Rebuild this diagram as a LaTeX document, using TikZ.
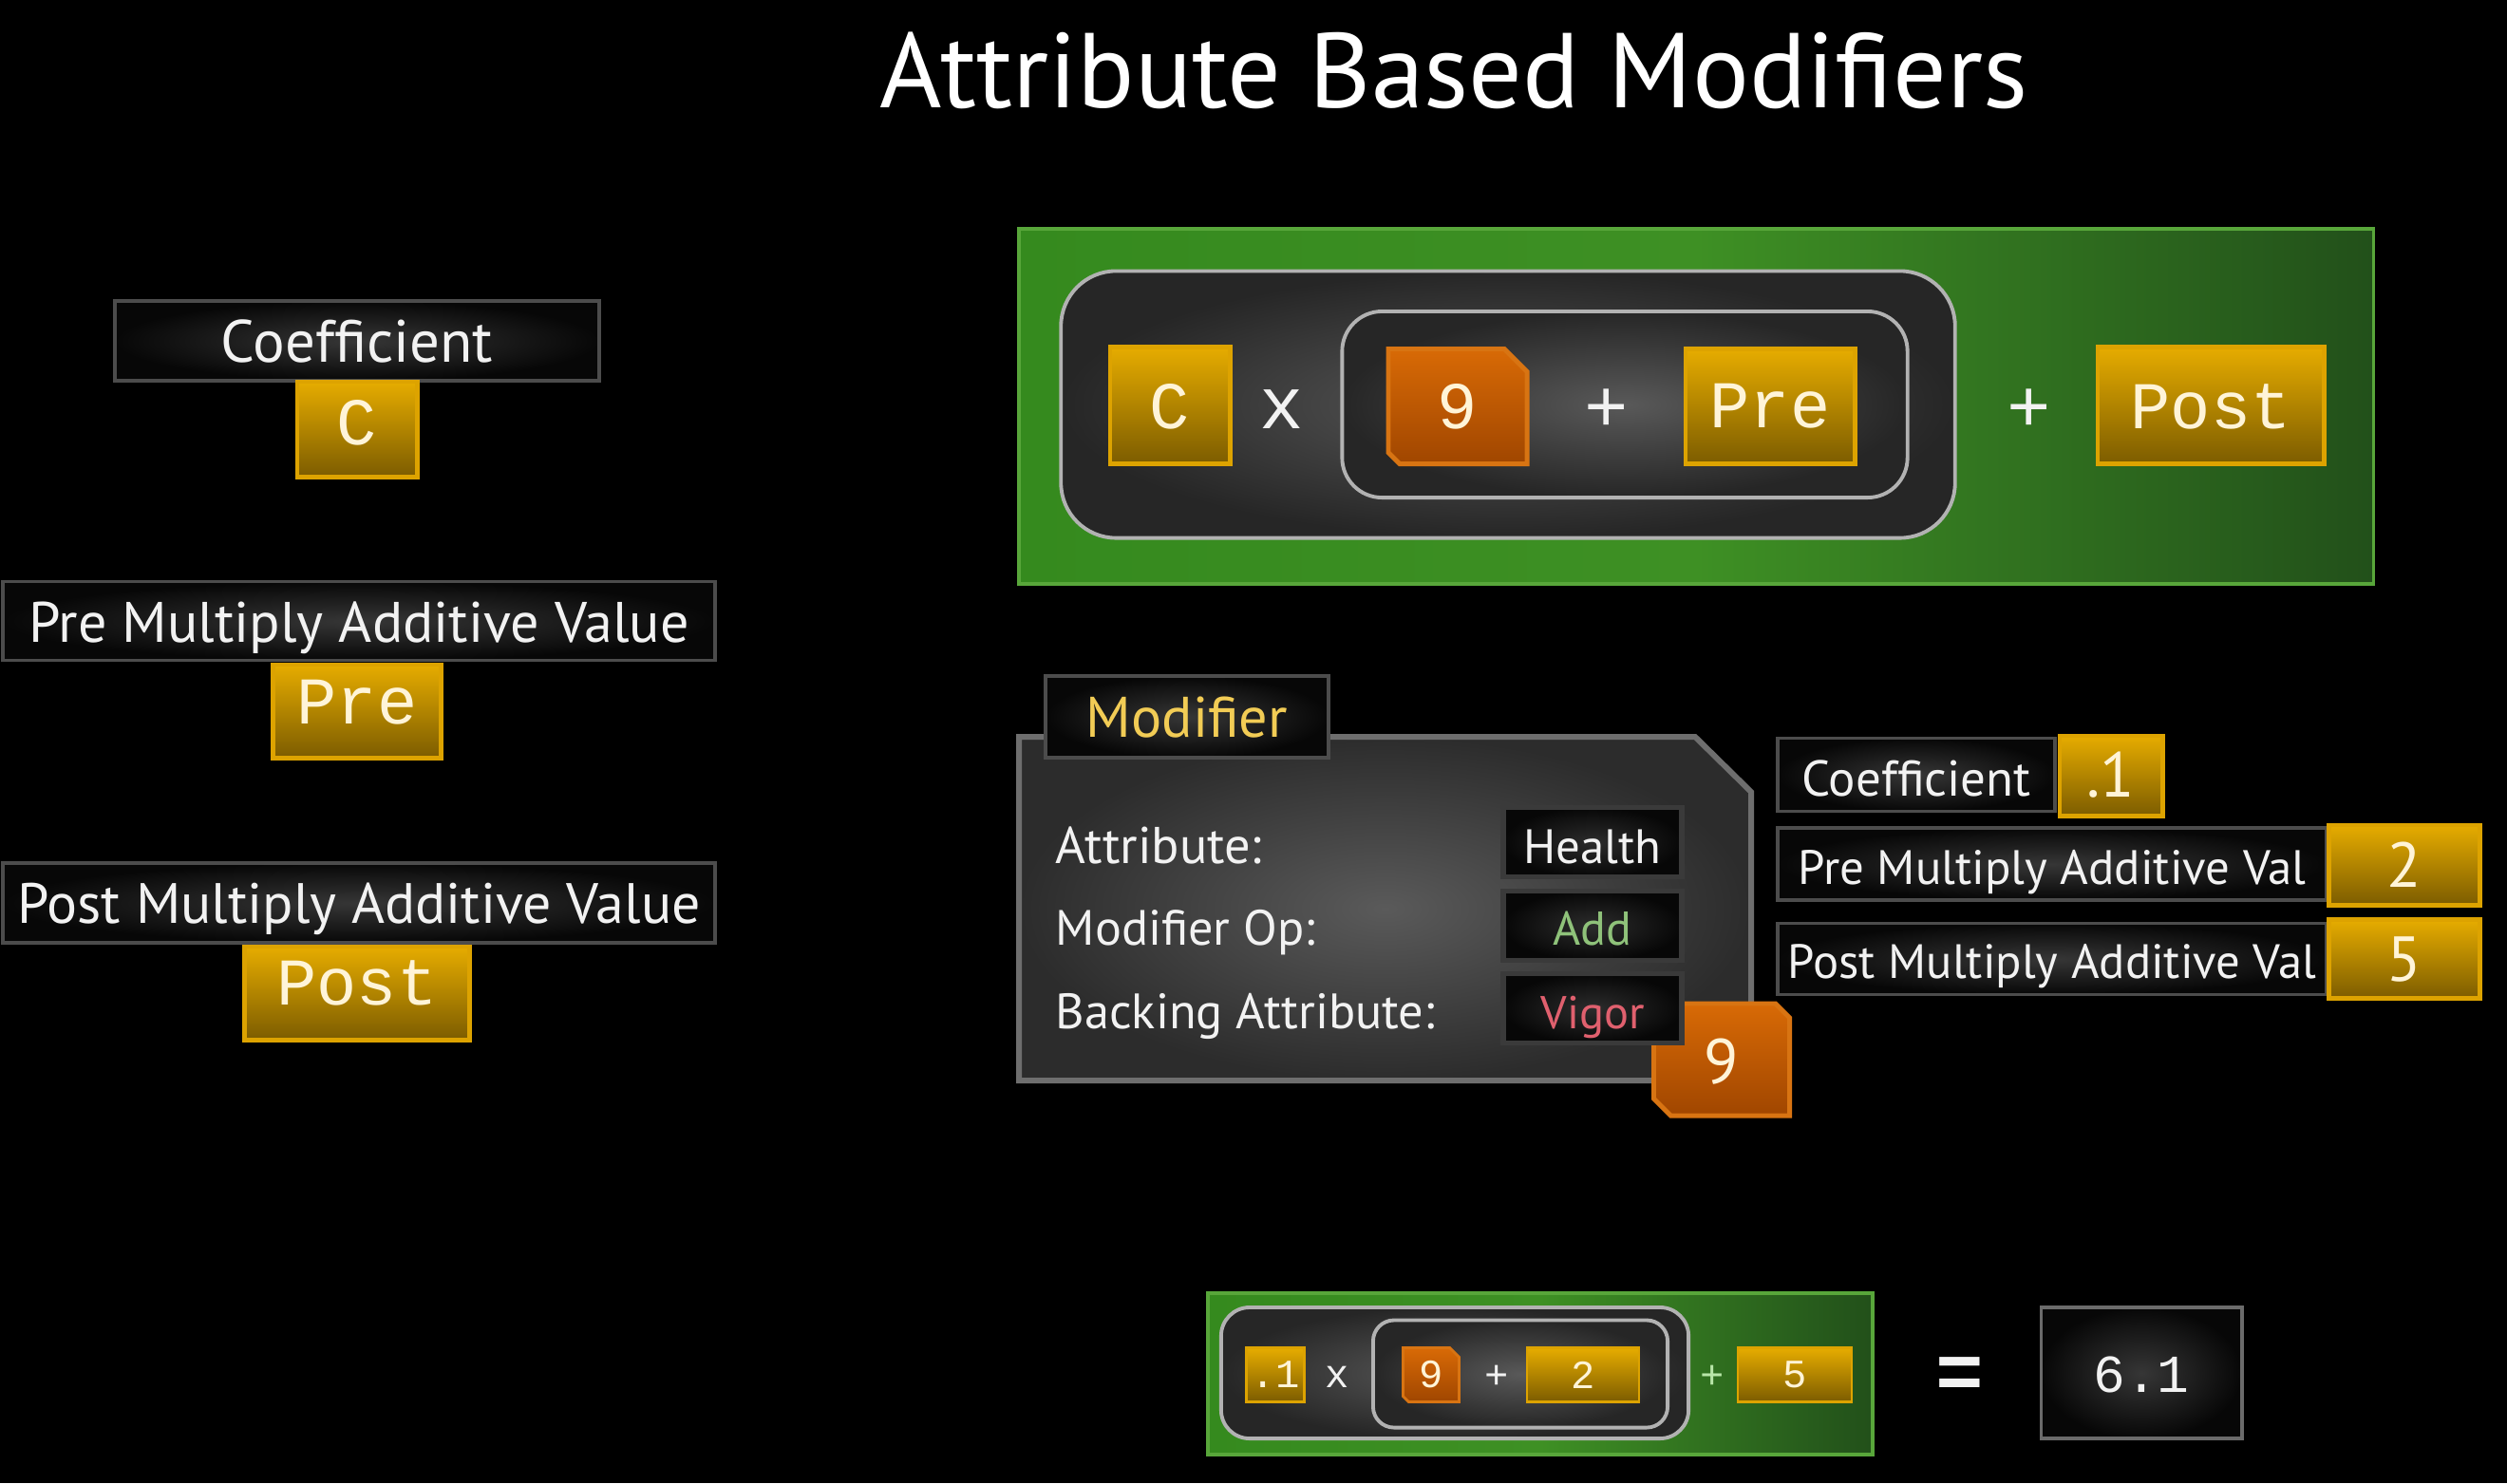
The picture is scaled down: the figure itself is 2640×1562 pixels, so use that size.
\documentclass[tikz,border=0pt]{standalone}
\usepackage{graphicx}
\usepackage{fontspec}
\setmainfont{PT Sans}
\newfontfamily\monof{Liberation Mono}
\usetikzlibrary{calc}
\definecolor{gTop}{HTML}{E6AC00}
\definecolor{gBot}{HTML}{7C5C00}
\definecolor{gBorder}{HTML}{DDA300}
\definecolor{orTop}{HTML}{D86A06}
\definecolor{orBot}{HTML}{A04600}
\definecolor{orBorder}{HTML}{D87412}
\definecolor{lblIn}{HTML}{363636}
\definecolor{lblOut}{HTML}{070707}
\definecolor{lblBorder}{HTML}{4C4C4C}
\definecolor{valIn}{HTML}{2C2C2C}
\definecolor{valBorder}{HTML}{3A3A3A}
\definecolor{grA}{HTML}{358A1E}
\definecolor{grB}{HTML}{3E9024}
\definecolor{grC}{HTML}{22501A}
\definecolor{grBorder}{HTML}{58A63A}
\definecolor{rIn}{HTML}{595959}
\definecolor{rOut}{HTML}{262626}
\definecolor{rBorder}{HTML}{B2B2B2}
\definecolor{pIn}{HTML}{5A5A5A}
\definecolor{pOut}{HTML}{2C2C2C}
\definecolor{pBorder}{HTML}{6E6E6E}
\definecolor{txtW}{HTML}{F2F2F2}
\definecolor{txtG}{HTML}{FFF4D8}
\definecolor{modY}{HTML}{F2CC55}
\definecolor{addG}{HTML}{8FC27A}
\definecolor{vigR}{HTML}{E0606E}
\definecolor{plusG}{HTML}{B8E6A8}
\newcommand\fw[2]{\resizebox{#1cm}{!}{#2}}
\newcommand\mfs[1]{\monof\fontsize{#1}{#1}\selectfont}
\tikzset{
  box/.style={inner sep=0pt, outer sep=0pt},
  sz/.style 2 args={minimum width=#1cm, minimum height=#2cm},
  lblbox/.style={box, draw=lblBorder, line width=1.1pt, inner color=lblIn, outer color=lblOut},
  valbox/.style={box, draw=valBorder, line width=1.6pt, inner color=valIn, outer color=lblOut},
  goldbox/.style={box, draw=gBorder, line width=1.4pt, top color=gTop, bottom color=gBot},
  goldsmall/.style={goldbox, line width=0.8pt},
  greenpanel/.style={box, draw=grBorder, line width=1.1pt, left color=grA, right color=grC, middle color=grB},
  darkround/.style={box, draw=rBorder, line width=1.1pt, inner color=rIn, outer color=rOut},
  holder/.style={box},
  orfill/.style={draw=orBorder, line width=1.4pt, top color=orTop, bottom color=orBot},
  lbltext/.style={text=txtW, inner sep=0pt},
  monobig/.style={text=txtG, font=\mfs{20}, inner sep=0pt},
  monosmall/.style={text=txtG, font=\mfs{12}, inner sep=0pt},
  optext/.style={text=txtW, font=\mfs{22}, inner sep=0pt},
  opsmall/.style={text=txtW, font=\mfs{12}, inner sep=0pt},
  sansnum/.style={text=txtG, font=\fontsize{19}{19}\selectfont, inner sep=0pt},
}
\begin{document}
\begin{tikzpicture}[x=0.01cm, y=-0.01cm]
\useasboundingbox (0,0) rectangle (2640,1562);
\fill[black] (0,0) rectangle (2640,1562);

% title
\node[text=white, inner sep=0pt, anchor=base] (title) at (1531,113) {\fw{12.08}{Attribute Based Modifiers}};

% ---------- left column ----------
\node[lblbox, sz={5.10}{0.84}] (coefL) at (376,359) {};
\node[lbltext, anchor=base] (coefLt) at (376,381) {\fw{2.86}{Coefficient}};
\node[goldbox, sz={1.26}{1.00}] (cL) at (376,452) {};
\node[monobig] (cLt) at (376,445) {C};

\node[lblbox, sz={7.50}{0.83}] (preL) at (378,654) {};
\node[lbltext, anchor=base] (preLt) at (378,676) {\fw{6.95}{Pre Multiply Additive Value}};
\node[goldbox, sz={1.77}{0.98}] (preLv) at (376,749) {};
\node[monobig] (preLvt) at (376,740) {Pre};

\node[lblbox, sz={7.50}{0.84}] (postL) at (378,951) {};
\node[lbltext, anchor=base] (postLt) at (378,972) {\fw{7.19}{Post Multiply Additive Value}};
\node[goldbox, sz={2.37}{0.98}] (postLv) at (376,1046) {};
\node[monobig] (postLvt) at (376,1035) {Post};

% ---------- top formula ----------
\node[greenpanel, sz={14.26}{3.74}] (topG) at (1786,428) {};
\node[darkround, rounded corners=0.58cm, sz={9.41}{2.81}] (topO) at (1588,426) {};
\node[darkround, rounded corners=0.42cm, sz={5.95}{1.96}] (topI) at (1711,426) {};
\node[goldbox, sz={1.26}{1.23}] (tC) at (1232,427) {};
\node[monobig] (tCt) at (1232,428) {C};
\node[optext] (tx) at (1350,431) {x};
\node[holder, sz={1.46}{1.21}] (t9) at (1535,428) {};
\path[orfill] (t9.north west) -- ($(t9.north east)+(-24,0)$) -- ($(t9.north east)+(0,24)$)
  -- (t9.south east) -- ($(t9.south west)+(12,0)$) -- ($(t9.south west)+(0,-12)$) -- cycle;
\node[monobig] (t9t) at (1535,428) {9};
\node[optext] (tp1) at (1692,432) {+};
\node[goldbox, sz={1.78}{1.21}] (tPre) at (1864,428) {};
\node[monobig] (tPret) at (1864,428) {Pre};
\node[optext] (tp2) at (2137,432) {+};
\node[goldbox, sz={2.38}{1.23}] (tPost) at (2328,427) {};
\node[monobig] (tPostt) at (2328,428) {Post};

% ---------- modifier panel ----------
\path[draw=pBorder, line width=1.7pt, inner color=pIn, outer color=pOut]
  (1073,776) -- (1785,776) -- (1844,834) -- (1844,1138) -- (1073,1138) -- cycle;
\node[lblbox, sz={2.97}{0.86}] (tab) at (1250,755) {};
\node[text=modY, inner sep=0pt, anchor=base] (tabt) at (1250,776) {\fw{2.12}{Modifier}};
\node[lbltext, anchor=base west] (lA) at (1111,909) {\fw{2.17}{Attribute:}};
\node[lbltext, anchor=base west] (lM) at (1111,995) {\fw{2.73}{Modifier Op:}};
\node[lbltext, anchor=base west] (lB) at (1111,1083) {\fw{3.99}{Backing Attribute:}};
\node[holder, sz={1.43}{1.18}] (m9) at (1813,1116) {};
\path[orfill] (m9.north west) -- ($(m9.north east)+(-15,0)$) -- ($(m9.north east)+(0,15)$)
  -- (m9.south east) -- ($(m9.south west)+(18,0)$) -- ($(m9.south west)+(0,-18)$) -- cycle;
\node[valbox, sz={1.88}{0.73}] (vH) at (1677,887) {};
\node[valbox, sz={1.88}{0.73}] (vA) at (1677,975) {};
\node[valbox, sz={1.88}{0.73}] (vV) at (1677,1062) {};
\node[lbltext, anchor=base] (vHt) at (1677,909) {\fw{1.45}{Health}};
\node[text=addG, inner sep=0pt, anchor=base] (vAt) at (1677,995) {\fw{0.83}{Add}};
\node[text=vigR, inner sep=0pt, anchor=base] (vVt) at (1677,1083) {\fw{1.09}{Vigor}};
\node[sansnum] (m9t) at (1813,1118) {9};

% ---------- right values ----------
\node[lblbox, sz={2.92}{0.77}] (coefR) at (2018,816) {};
\node[lbltext, anchor=base] (coefRt) at (2018,838) {\fw{2.41}{Coefficient}};
\node[goldbox, sz={1.08}{0.84}] (cR) at (2223,817) {};
\node[sansnum] (cRt) at (2223,816) {.1};

\node[lblbox, sz={5.78}{0.76}] (preR) at (2161,910) {};
\node[lbltext, anchor=base] (preRt) at (2161,931) {\fw{5.35}{Pre Multiply Additive Val}};
\node[goldbox, sz={1.59}{0.84}] (pR) at (2532,911) {};
\node[sansnum] (pRt) at (2532,911) {2};

\node[lblbox, sz={5.78}{0.75}] (postR) at (2161,1010) {};
\node[lbltext, anchor=base] (postRt) at (2161,1030) {\fw{5.56}{Post Multiply Additive Val}};
\node[goldbox, sz={1.59}{0.83}] (poR) at (2532,1010) {};
\node[sansnum] (poRt) at (2532,1010) {5};

% ---------- bottom formula ----------
\node[greenpanel, sz={6.99}{1.70}] (bG) at (1622,1447) {};
\node[darkround, rounded corners=0.3cm, sz={4.92}{1.38}] (bO) at (1532,1446) {};
\node[darkround, rounded corners=0.22cm, sz={3.10}{1.13}] (bI) at (1601,1447) {};
\node[goldsmall, sz={0.61}{0.57}] (b1) at (1343,1448) {};
\node[monosmall] (b1t) at (1343,1448) {.1};
\node[opsmall] (bx) at (1408,1450) {x};
\node[holder, sz={0.59}{0.57}] (b9) at (1507,1448) {};
\path[orfill, line width=0.8pt] (b9.north west) -- ($(b9.north east)+(-10,0)$) -- ($(b9.north east)+(0,10)$)
  -- (b9.south east) -- ($(b9.south west)+(6,0)$) -- ($(b9.south west)+(0,-6)$) -- cycle;
\node[monosmall] (b9t) at (1507,1448) {9};
\node[opsmall] (bp1) at (1576,1450) {+};
\node[goldsmall, sz={1.18}{0.57}] (b2) at (1667,1448) {};
\node[monosmall] (b2t) at (1667,1448) {2};
\node[opsmall, text=plusG] (bp2) at (1803,1450) {+};
\node[goldsmall, sz={1.20}{0.57}] (b5) at (1890,1448) {};
\node[monosmall] (b5t) at (1890,1448) {5};
\node[text=txtW, font=\mfs{24}\bfseries, inner sep=0pt] (beq) at (2064,1452) {=};
\node[box, draw=rBorder!60!black, line width=1.1pt, inner color=lblIn, outer color=lblOut, sz={2.11}{1.38}] (b61) at (2255,1446) {};
\node[text=txtW, font=\mfs{16}, inner sep=0pt] (b61t) at (2255,1448) {6.1};
\end{tikzpicture}
\end{document}
